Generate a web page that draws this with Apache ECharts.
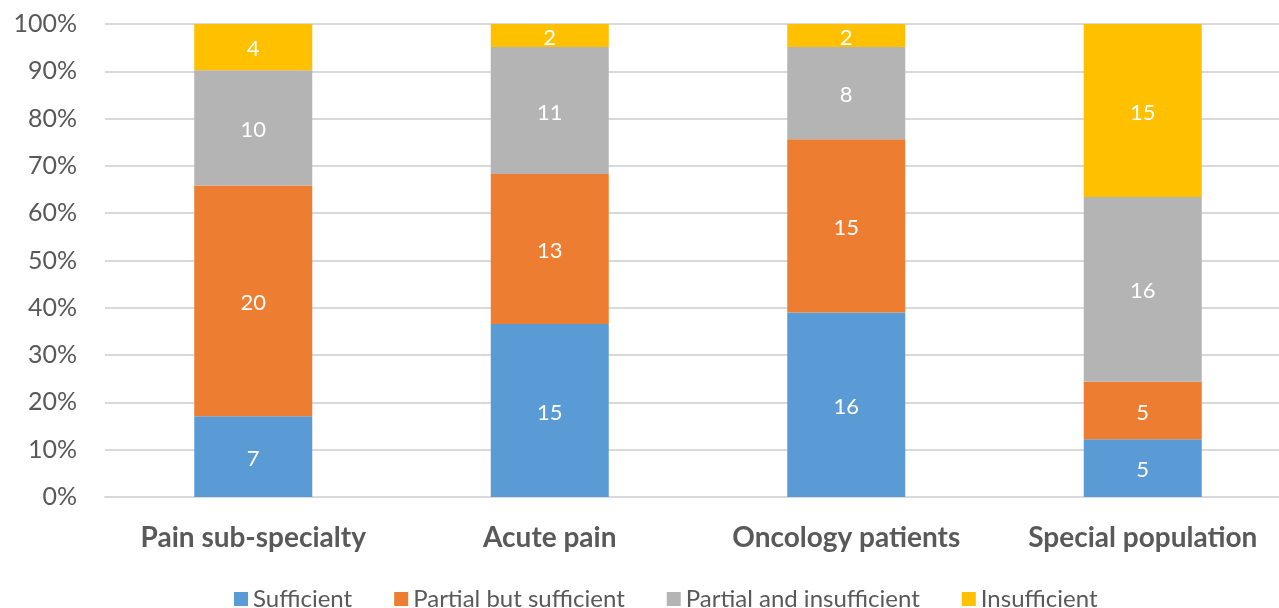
<!DOCTYPE html>
<html>
<head>
<meta charset="utf-8">
<script src="https://cdn.jsdelivr.net/npm/echarts@6/dist/echarts.min.js"></script>
<style>
  html, body { margin: 0; padding: 0; background: #fff; }
  #chart { width: 1279px; height: 608px; }
</style>
</head>
<body>
<div id="chart"></div>
<script>
// Categories and counts per adequacy rating
const categories = ['Pain sub-specialty', 'Acute pain', 'Oncology patients', 'Special population'];
const sufficient = [7, 15, 16, 5];
const partialSufficient = [20, 13, 15, 5];
const partialInsufficient = [10, 11, 8, 16];
const insufficient = [4, 2, 2, 15];
const yTickLabels = ['0%', '10%', '20%', '30%', '40%', '50%', '60%', '70%', '80%', '90%', '100%'];

const seriesDefs = [
  { name: 'Sufficient', values: sufficient, color: '#5B9BD5' },
  { name: 'Partial but sufficient', values: partialSufficient, color: '#ED7D31' },
  { name: 'Partial and insufficient', values: partialInsufficient, color: '#B4B4B4' },
  { name: 'Insufficient', values: insufficient, color: '#FFC000' }
];

// Totals per category, for the 100% stacking
const totals = categories.map((_, i) => seriesDefs.reduce((s, d) => s + d.values[i], 0));

const FONT = 'Lato, "Open Sans", sans-serif';

const chart = echarts.init(document.getElementById('chart'), null, { renderer: 'canvas' });
chart.setOption({
  animation: false,
  textStyle: { fontFamily: FONT },
  // plot area runs slightly past the right edge of the canvas
  grid: { left: 105, right: -12, top: 24, bottom: 111, containLabel: false, outerBoundsMode: 'none' },
  legend: {
    left: 229,
    top: 582,
    itemWidth: 14,
    itemHeight: 14,
    itemGap: 42,
    icon: 'rect',
    textStyle: { fontSize: 24, color: '#595959', fontFamily: FONT },
    data: seriesDefs.map(d => d.name)
  },
  xAxis: {
    type: 'category',
    data: categories,
    axisLine: { show: true, lineStyle: { color: '#D9D9D9', width: 2 } },
    axisTick: { show: false },
    axisLabel: { interval: 0, fontSize: 28, fontWeight: 'bold', color: '#595959', margin: 27, fontFamily: FONT }
  },
  yAxis: {
    type: 'value',
    min: 0,
    max: 1,
    interval: 0.1,
    axisLine: { show: false },
    axisTick: { show: false },
    splitLine: { lineStyle: { color: '#D9D9D9', width: 2 } },
    axisLabel: {
      fontSize: 25,
      color: '#595959',
      margin: 28,
      fontFamily: FONT,
      formatter: v => yTickLabels[Math.round(v * 10)]
    }
  },
  series: seriesDefs.map(d => ({
    name: d.name,
    type: 'bar',
    stack: 'total',
    barWidth: 118,
    itemStyle: { color: d.color },
    label: {
      show: true,
      position: 'inside',
      offset: [0, 2],
      color: '#ffffff',
      fontSize: 22,
      fontFamily: FONT,
      formatter: p => String(d.values[p.dataIndex])
    },
    data: d.values.map((v, i) => v / totals[i])
  }))
});
</script>
</body>
</html>
